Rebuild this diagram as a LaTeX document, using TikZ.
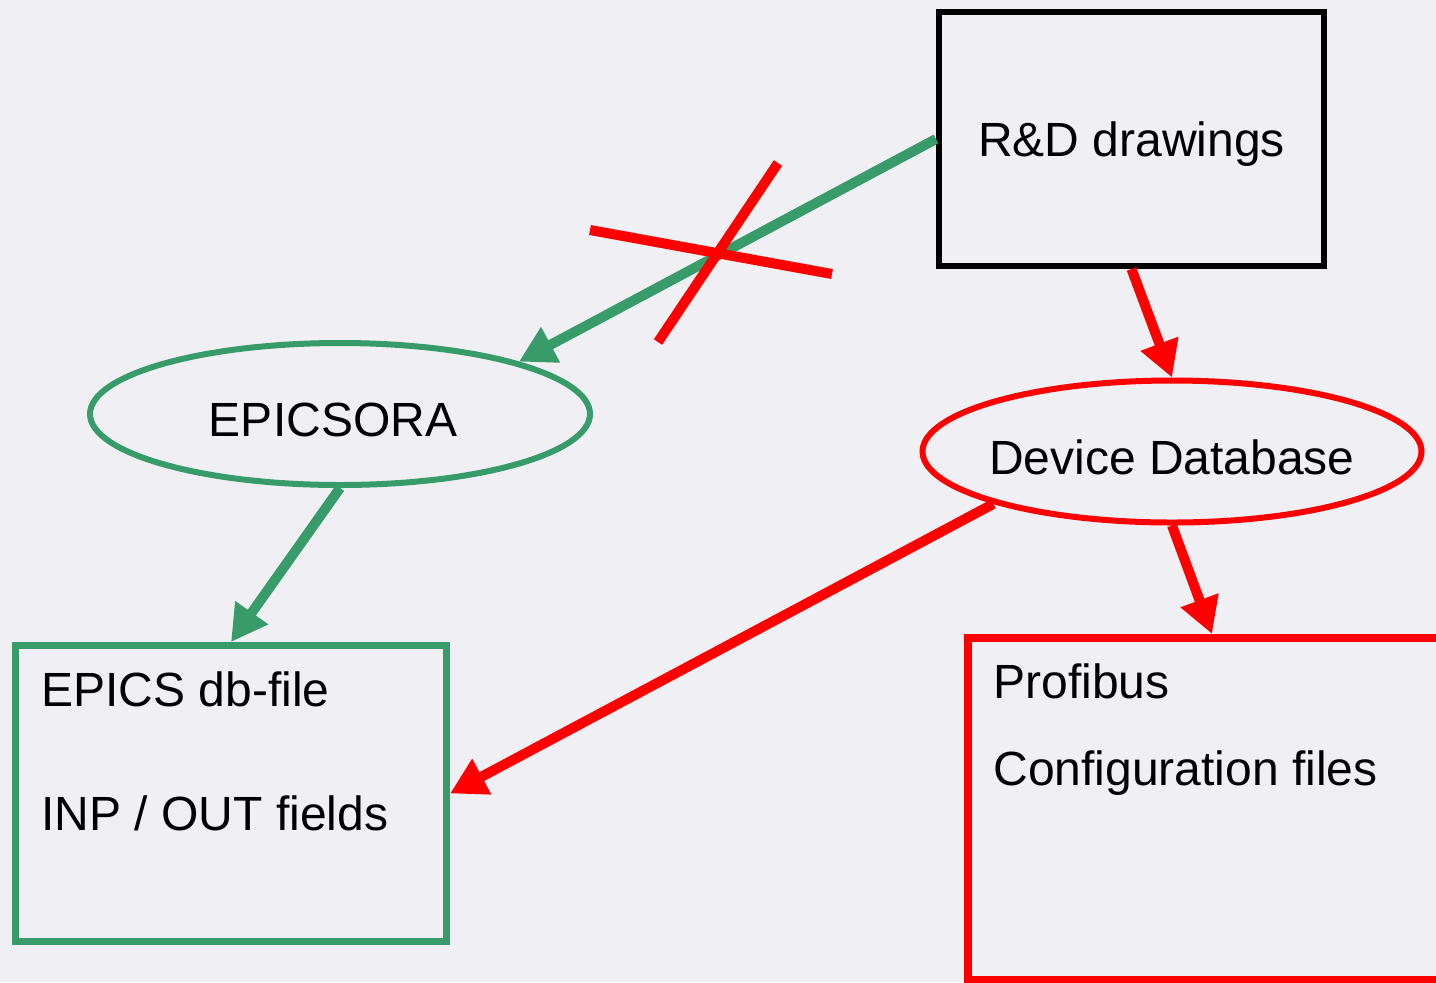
\documentclass[tikz,border=0pt]{standalone}
\usepackage{fontspec}
\setmainfont{Liberation Sans}
\usetikzlibrary{arrows.meta}
\usetikzlibrary{shapes.geometric}
\definecolor{epicsgreen}{RGB}{56,155,106}
\definecolor{bgcol}{RGB}{240,240,244}

\begin{document}
\begin{tikzpicture}[x=0.5pt,y=-0.5pt,>={Triangle[length=18pt,width=19pt]},
    every node/.style={font=\fontsize{24}{29}\selectfont},
    flow/.style={->,line width=5pt},
    boxtext/.style={anchor=base west,inner sep=0pt}]
    \fill[bgcol] (0,0) rectangle (1436,982);
    \clip (0,0) rectangle (1436,982);
    % boxes
    \node[draw,line width=3pt,minimum width=192.5pt,minimum height=127pt,text depth=0pt] (rd) at (1131.5,139) {R\&D drawings};
    \node[draw=epicsgreen,line width=3.5pt,minimum width=215.5pt,minimum height=148pt] (db) at (231,793.5) {};
    \node[draw=red,line width=4pt,minimum width=244pt,minimum height=171pt] (prof) at (1212,809) {};
    \node[boxtext] (dbline1) at (41,706) {EPICS db-file};
    \node[boxtext] (dbline2) at (41,830) {INP / OUT fields};
    \node[boxtext] (profline1) at (993,698) {Profibus};
    \node[boxtext] (profline2) at (993,785) {Configuration files};
    % ellipses
    \node[ellipse,draw=epicsgreen,line width=3pt,minimum width=250pt,minimum height=71pt,
      label={[xshift=-3.5pt,yshift=-2.75pt]center:EPICSORA}] (ora) at (340,414) {};
    \node[ellipse,draw=red,line width=3pt,minimum width=249.5pt,minimum height=71pt,
      label={[yshift=-3pt]center:Device Database}] (ddb) at (1172,451.5) {};
    %
    \draw[flow,epicsgreen] (rd.west) -- (ora.north east);
    \draw[flow,epicsgreen] (ora.south) -- (db.north);
    \draw[flow,red] (rd.south) -- (ddb.north);
    \draw[flow,red] (ddb.south west) -- (db.east);
    \draw[flow,red] (ddb.south) -- (prof.north);
    % the cross
    \draw[red,line width=5pt] (590,230) -- (832,274);
    \draw[red,line width=5pt] (778,163) -- (658,342);
\end{tikzpicture}
\end{document}
